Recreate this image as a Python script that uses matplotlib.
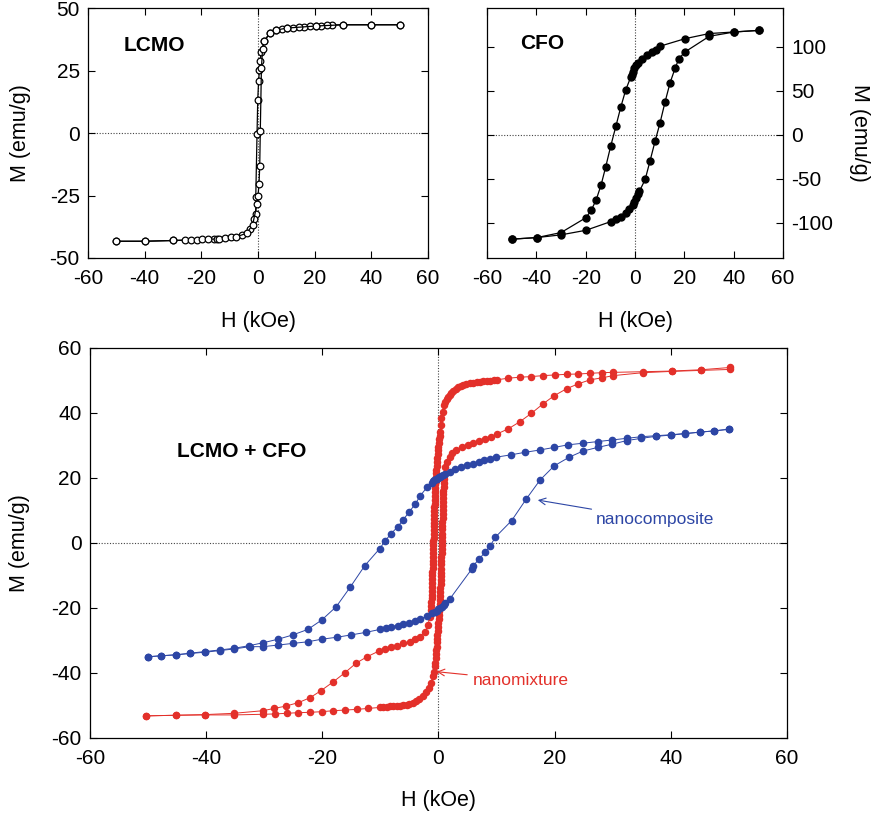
import matplotlib.pyplot as plt

plt.rcParams['font.family'] = ['Liberation Sans', 'DejaVu Sans']
plt.rcParams['axes.unicode_minus'] = False

RED = '#e3302a'
BLUE = '#2d46a5'

# ---- LCMO loop (kOe, emu/g) ----
lcmo_h_down = [50, 40, 30, 26.2, 24.4, 22.4, 20.4, 18.4, 16.4, 14.4, 12.4, 10.4, 8.4, 6.4, 4.2,
               2.2, 1.1, 0.7, 0.5, 0.2, -0.1, -0.35, -0.8, -0.8, -1.4, -2.8, -5.6, -15.6, -30, -40, -50]
lcmo_m_down = [43.3, 43.3, 43.3, 43.2, 43.1, 42.9, 42.8, 42.7, 42.5, 42.4, 42.1, 42.0, 41.6, 41.2, 40.1,
               36.7, 32.4, 28.7, 25.3, 20.7, 13.3, -0.4, -25.6, -32.4, -34.5, -38.5, -41.0, -42.4, -43.0, -43.3, -43.3]
lcmo_h_up = [-50, -40, -30, -25.8, -23.6, -21.6, -19.6, -17.6, -14.6, -13.6, -11.6, -9.6, -7.6, -4.0, -1.9,
             -0.35, 0.0, 0.35, 0.6, 0.8, 1.2, 1.6, 2.2, 4.2, 6.4, 10.4, 20.4, 30, 40, 50]
lcmo_m_up = [-43.3, -43.3, -43.0, -42.9, -42.8, -42.7, -42.6, -42.5, -42.4, -42.3, -42.0, -41.7, -41.5, -40.1, -36.7,
             -28.4, -25.0, -20.4, -13.3, 0.7, 26.0, 33.7, 36.7, 40.1, 41.2, 42.0, 42.8, 43.3, 43.3, 43.3]

# ---- CFO loop ----
cfo_h_down = [50.3, 40.3, 30.1, 20.3, 10.1, 8.4, 6.8, 4.7, 3.0, 1.3, 0.4, -0.3, -0.9, -1.3, -1.7, -3.8,
              -5.8, -7.8, -9.9, -11.9, -13.8, -15.8, -17.8, -19.9, -30, -39.8, -50]
cfo_m_down = [118.6, 116.8, 115.0, 109.2, 100.6, 96.8, 94.2, 90.4, 85.9, 81.7, 79.1, 75.3, 71.6, 67.8, 65.9, 50.8,
              31.3, 9.4, -13.2, -36.5, -57.3, -74.2, -85.9, -94.2, -111.1, -116.8, -118.6]
cfo_h_up = [-50, -39.8, -30, -19.9, -9.9, -7.8, -5.8, -3.8, -2.4, -0.9, -0.3, 0.4, 1.1, 1.8, 4.1, 6.1,
            8.1, 10.1, 12.2, 14.2, 16.2, 17.8, 20.3, 30.1, 40.3, 50.3]
cfo_m_up = [-118.6, -116.8, -113.7, -108.5, -98.7, -96.1, -93.1, -89.3, -84.7, -80.2, -76.5, -71.6, -67.8, -64.0, -50.8, -29.4,
            -7.5, 13.2, 37.7, 59.1, 75.3, 86.6, 94.2, 111.9, 116.8, 118.6]

# ---- LCMO + CFO nanocomposite ----
nc_h_down = [50.0, 47.5, 45.0, 42.4, 40.0, 37.4, 34.9, 32.4, 29.9, 27.4, 24.9, 22.3, 19.9, 17.4, 14.9, 12.4,
             9.9, 8.9, 7.9, 6.9, 5.9, 4.9, 3.8, 2.8, 1.9, 1.1, 0.8, 0.5, 0.3, 0.1, -0.1, -0.3, -0.5, -0.7,
             -0.9, -1.2, -2.0, -3.1, -4.0, -5.1, -6.1, -7.0, -8.2, -9.2, -10.1, -12.7, -15.2, -17.6, -20.1,
             -22.5, -25.1, -27.6, -30.2, -32.6, -35.2, -37.6, -40.2, -42.7, -45.2, -47.7, -50.0]
nc_m_down = [35.0, 34.5, 34.1, 33.7, 33.3, 33.0, 32.7, 32.2, 31.7, 31.2, 30.7, 30.2, 29.4, 28.6, 27.9, 27.1,
             26.4, 25.8, 25.4, 24.9, 24.4, 23.9, 23.3, 22.8, 21.9, 21.2, 20.9, 20.6, 20.4, 20.2, 20.0, 19.8, 19.6, 19.4,
             19.1, 18.6, 17.1, 14.6, 12.0, 9.4, 7.1, 5.0, 2.8, 0.6, -1.7, -7.0, -13.6, -19.6, -23.7,
             -26.6, -28.3, -29.6, -30.7, -31.6, -32.4, -32.9, -33.4, -33.9, -34.4, -34.7, -35.0]
nc_h_up = [-50.0, -47.7, -45.2, -42.7, -40.2, -37.6, -35.2, -32.5, -30.2, -27.6, -25.1, -22.5, -20.1, -17.5,
           -15.1, -12.5, -10.1, -9.0, -8.1, -7.0, -6.1, -5.0, -4.0, -3.1, -2.0, -1.2, -0.6, -0.3, 0.0, 0.3,
           0.6, 0.9, 1.2, 2.0, 5.7, 6.0, 7.0, 8.0, 8.9, 9.8, 12.6, 15.1, 17.5, 19.9, 22.5, 24.9, 27.4, 29.9,
           32.4, 34.9, 37.4, 40.0, 42.4, 45.0, 47.5, 50.0]
nc_m_up = [-35.0, -34.7, -34.4, -34.0, -33.6, -33.1, -32.6, -31.9, -31.9, -31.4, -30.9, -30.4, -29.6, -29.0,
           -28.3, -27.5, -26.6, -26.2, -25.7, -25.4, -24.9, -24.5, -23.9, -23.4, -22.5, -21.6, -21.2, -20.8, -20.4, -20.0,
           -19.6, -19.1, -18.5, -17.1, -8.1, -7.0, -4.9, -2.9, -0.9, 1.8, 6.9, 13.5, 19.4, 23.7, 26.4, 28.3, 29.4, 30.4,
           31.5, 32.2, 32.8, 33.2, 33.6, 34.1, 34.5, 35.0]

# ---- LCMO + CFO nanomixture, field decreasing ----
nm_top_h = [50.2, 45.2, 40.2, 35.2, 30.1, 28.1, 26.1, 24.1, 22.1, 20.1, 18.0, 16.0, 14.0, 12.0, 10.0, 9.5,
            8.9, 8.3, 7.7, 7.1, 6.6, 6.0, 5.4, 4.8, 4.3, 3.8, 3.4, 3.0, 2.5, 2.2, 1.9, 1.6, 1.4, 1.1, 0.9,
            0.7, 0.5, 0.4, 0.3, 0.2]
nm_top_m = [54.0, 53.3, 52.9, 52.7, 52.5, 52.4, 52.2, 52.0, 51.9, 51.7, 51.5, 51.2, 51.0, 50.7, 50.2, 50.1,
            49.9, 49.8, 49.7, 49.6, 49.5, 49.3, 49.1, 48.9, 48.6, 48.3, 47.9, 47.5, 46.9, 46.3, 45.5, 44.9, 44.2, 43.4, 42.5,
            40.4, 38.4, 36.3, 34.2, 33.0]
nm_drop_h = [0.1, 0.04, -0.02, -0.08, -0.14, -0.2, -0.26, -0.31, -0.36, -0.4, -0.44, -0.48, -0.52, -0.55,
             -0.58, -0.61, -0.64, -0.67, -0.69, -0.71, -0.73, -0.75, -0.77, -0.79, -0.81, -0.83, -0.85, -0.87,
             -0.89, -0.91, -0.93, -0.95, -0.97, -0.99, -1.01, -1.03, -1.05, -1.07, -1.09, -1.11, -1.13, -1.16,
             -1.19, -1.22, -1.27, -1.35]
nm_drop_m = [32.0, 30.8, 29.6, 28.5, 27.3, 26.1, 25.0, 23.8, 22.6, 21.5, 20.3, 19.1, 18.0, 16.8,
             15.6, 14.5, 13.3, 12.1, 11.0, 9.8, 8.6, 7.5, 6.3, 5.1, 4.0, 2.8, 1.6, 0.5,
             -0.7, -1.9, -3.0, -4.2, -5.4, -6.5, -7.7, -8.9, -10.0, -11.2, -12.4, -13.5, -14.7, -15.9,
             -17.0, -18.2, -19.4, -20.5]
nm_low_h = [-1.5, -1.8, -2.3, -3.2, -4.0, -4.9, -6.1, -7.2, -8.2, -9.2, -10.2, -12.3, -14.2, -16.1, -18.1,
            -20.2, -22.1, -24.1, -26.3, -28.3, -30.2, -35.2, -40.2, -45.2, -50.4]
nm_low_m = [-22.7, -25.2, -27.3, -28.8, -29.6, -30.4, -30.9, -31.6, -32.1, -32.7, -33.2, -35.0, -37.0, -39.9, -42.7,
            -45.4, -47.6, -49.1, -50.2, -50.9, -51.6, -52.4, -52.8, -53.0, -53.2]

# ---- nanomixture, field increasing ----
nm_base_h = [-50.4, -45.2, -40.2, -35.2, -30.2, -28.2, -26.1, -24.1, -22.1, -20.1, -18.1, -16.1, -14.1, -12.1,
             -10.1, -9.5, -8.9, -8.3, -7.8, -7.2, -6.6, -6.1, -5.5, -5.0, -4.4, -3.8, -3.3, -2.7, -2.2, -1.7,
             -1.3, -1.0, -0.8, -0.6]
nm_base_m = [-53.2, -53.0, -52.9, -52.9, -52.7, -52.6, -52.4, -52.2, -52.1, -51.9, -51.6, -51.4, -51.2, -50.9,
             -50.6, -50.5, -50.4, -50.3, -50.3, -50.2, -50.1, -50.0, -49.8, -49.5, -49.2, -48.7, -48.0, -47.2, -45.9, -44.6,
             -43.1, -41.0, -39.6, -38.0]
nm_rise_h = [-0.52, -0.47, -0.42, -0.37, -0.32, -0.27, -0.22, -0.17, -0.12, -0.07, -0.02, 0.03, 0.07, 0.11,
             0.15, 0.19, 0.23, 0.26, 0.29, 0.32, 0.35, 0.38, 0.41, 0.43, 0.45, 0.47, 0.49, 0.51, 0.53, 0.55,
             0.57, 0.59, 0.61, 0.63, 0.65, 0.67, 0.69, 0.71, 0.73, 0.75, 0.77, 0.79, 0.81, 0.83, 0.85, 0.87,
             0.89, 0.90, 0.91]
nm_rise_m = [-36.9, -35.5, -34.3, -33.0, -31.9, -30.6, -29.5, -28.2, -27.1, -25.9, -24.6, -23.5, -22.3, -21.0,
             -19.9, -18.7, -17.4, -16.3, -15.1, -13.8, -12.7, -11.5, -10.2, -9.1, -7.9, -6.6, -5.5, -4.3, -3.0, -1.9,
             -0.7, 0.6, 1.7, 2.9, 4.2, 5.3, 6.5, 7.8, 8.9, 10.1, 11.4, 12.5, 13.7, 15.0, 16.1, 17.3,
             18.6, 19.7, 20.9]
nm_up_h = [1.1, 1.4, 2.0, 2.4, 3.1, 4.0, 5.0, 6.0, 7.0, 8.0, 9.0, 10.0, 12.0, 14.0, 16.0, 18.0, 19.9, 22.1,
           24.1, 26.1, 28.1, 30.1, 35.2, 40.2, 45.2, 50.2]
nm_up_m = [23.5, 25.0, 26.6, 27.6, 28.6, 29.4, 30.2, 30.9, 31.5, 32.1, 32.7, 33.5, 35.1, 37.3, 39.9, 42.8, 45.3, 47.5,
           49.0, 50.2, 50.8, 51.5, 52.4, 52.8, 53.1, 53.4]


def style_axes(ax, ylim, yticks):
    ax.set_xlim(-60, 60)
    ax.set_xticks(range(-60, 61, 20))
    ax.set_ylim(*ylim)
    ax.set_yticks(yticks)
    ax.tick_params(direction='in', top=True, right=True, length=5, width=0.8, labelsize=15)
    ax.tick_params(axis='x', pad=8)
    ax.tick_params(axis='y', pad=6)
    for sp in ax.spines.values():
        sp.set_linewidth(0.9)
    ax.axhline(0, color='#444444', ls=(0, (1, 1.5)), lw=0.8, zorder=0)
    ax.axvline(0, color='#444444', ls=(0, (1, 1.5)), lw=0.8, zorder=0)
    ax.set_xlabel('H (kOe)', fontsize=15.5, va='center')


fig = plt.figure(figsize=(8.76, 8.18), dpi=100)

# LCMO
ax1 = fig.add_axes([0.1005, 0.6846, 0.3881, 0.3056])
style_axes(ax1, (-50, 50), [-50, -25, 0, 25, 50])
for h, m in [(lcmo_h_down, lcmo_m_down), (lcmo_h_up, lcmo_m_up)]:
    ax1.plot(h, m, '-o', color='black', lw=0.9, ms=4.8, mfc='white', mec='black', mew=0.9)
ax1.text(-47.6, 35.2, 'LCMO', fontsize=15, fontweight='bold', ha='left', va='center')
ax1.set_ylabel('M (emu/g)', fontsize=15.5, va='center')
ax1.yaxis.set_label_coords(-0.2, 0.5)
ax1.xaxis.set_label_coords(0.5, -0.256)

# CFO
ax2 = fig.add_axes([0.556, 0.6846, 0.3379, 0.3056])
style_axes(ax2, (-140, 144), [-100, -50, 0, 50, 100])
ax2.tick_params(axis='y', labelleft=False, labelright=True)
for h, m in [(cfo_h_down, cfo_m_down), (cfo_h_up, cfo_m_up)]:
    ax2.plot(h, m, '-o', color='black', lw=0.9, ms=5)
ax2.text(-46.6, 103.6, 'CFO', fontsize=15, fontweight='bold', ha='left', va='center')
ax2.yaxis.set_label_position('right')
ax2.set_ylabel('M (emu/g)', fontsize=15.5, rotation=270, va='center', ha='center')
ax2.yaxis.set_label_coords(1.257, 0.5)
ax2.xaxis.set_label_coords(0.5, -0.256)

# LCMO + CFO
ax3 = fig.add_axes([0.1027, 0.0978, 0.7957, 0.4768])
style_axes(ax3, (-60, 60), range(-60, 61, 20))
nm_h_down = nm_top_h + nm_drop_h + nm_low_h
nm_m_down = nm_top_m + nm_drop_m + nm_low_m
nm_h_up = nm_base_h + nm_rise_h + nm_up_h
nm_m_up = nm_base_m + nm_rise_m + nm_up_m
for h, m in [(nm_h_down, nm_m_down), (nm_h_up, nm_m_up)]:
    ax3.plot(h, m, '-o', color=RED, lw=0.7, ms=4.4, mec=RED, zorder=2)
for h, m in [(nc_h_down, nc_m_down), (nc_h_up, nc_m_up)]:
    ax3.plot(h, m, '-o', color=BLUE, lw=0.7, ms=4.5, mec=BLUE, zorder=3)
ax3.text(-45, 28, 'LCMO + CFO', fontsize=15, fontweight='bold', ha='left', va='center')
ax3.annotate('nanocomposite', xy=(17.1, 13.2), xytext=(27.1, 7.1), color=BLUE, fontsize=12.5,
             ha='left', va='center',
             arrowprops=dict(arrowstyle='->', color=BLUE, lw=0.8, shrinkA=2, shrinkB=0, mutation_scale=12))
ax3.annotate('nanomixture', xy=(-0.3, -39.6), xytext=(5.9, -42.2), color=RED, fontsize=12.5,
             ha='left', va='center',
             arrowprops=dict(arrowstyle='->', color=RED, lw=0.8, shrinkA=2, shrinkB=0, mutation_scale=12))
ax3.set_ylabel('M (emu/g)', fontsize=15.5, va='center')
ax3.yaxis.set_label_coords(-0.101, 0.5)
ax3.xaxis.set_label_coords(0.5, -0.159)

fig.savefig('out.png', dpi=100)
